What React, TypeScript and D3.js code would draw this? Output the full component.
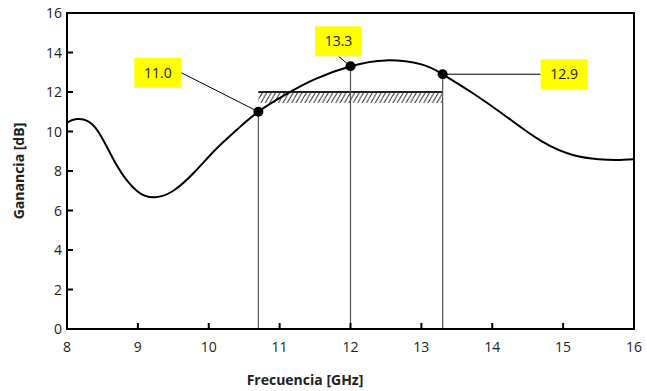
import React from "react";
import * as d3 from "d3";

const freq = [8.0, 8.14, 8.4, 8.7, 9.0, 9.24, 9.5, 9.8, 10.1, 10.4, 10.7, 11.1, 11.5, 12.0, 12.5, 13.0, 13.3, 13.7, 14.2, 14.7, 15.15, 15.5, 15.75, 16.0];
const gain = [10.45, 10.63, 10.2, 8.3, 6.95, 6.67, 7.0, 7.95, 9.1, 10.1, 11.0, 11.9, 12.65, 13.3, 13.6, 13.4, 12.9, 12.0, 10.75, 9.5, 8.8, 8.6, 8.56, 8.6];

const markerFreq = [10.7, 12.0, 13.3];
const markerGain = [11.0, 13.3, 12.9];
const markerLabels = ["11.0", "13.3", "12.9"];

const specFreq = [10.7, 13.3];
const specGain = 12;

const xTicks = [8, 9, 10, 11, 12, 13, 14, 15, 16];
const yTicks = [0, 2, 4, 6, 8, 10, 12, 14, 16];

const W = 647, H = 391;
const left = 67, right = 634, top = 13, bottom = 329;
const FONT = "'Open Sans', 'Noto Sans', sans-serif";

export default function App() {
  const x = d3.scaleLinear().domain([8, 16]).range([left, right]);
  const y = d3.scaleLinear().domain([0, 16]).range([bottom, top]);
  const line = d3
    .line<number>()
    .x((_, i) => x(freq[i]))
    .y((d) => y(d))
    .curve(d3.curveNatural);

  const pts = markerFreq.map((f, i) => ({ px: x(f), py: y(markerGain[i]) }));
  const boxW = 47, boxH = 30;
  const boxes = [
    { bx: pts[0].px - 124, by: pts[0].py - 54 },
    { bx: pts[1].px - 35.5, by: pts[1].py - 40 },
    { bx: pts[2].px + 98, by: pts[2].py - 15 },
  ];
  const leaders = [
    { x1: boxes[0].bx + boxW, y1: boxes[0].by + boxH / 2 },
    { x1: boxes[1].bx + boxW / 2, y1: boxes[1].by + boxH },
    { x1: boxes[2].bx, y1: boxes[2].by + boxH / 2 },
  ];

  const sx0 = x(specFreq[0]), sx1 = x(specFreq[1]), sy = y(specGain);

  return (
    <svg width={W} height={H} style={{ position: "absolute", left: 0, top: 0, background: "#fff" }} fontFamily={FONT}>
      <defs>
        <pattern id="hatch" width="4.4" height="11" patternUnits="userSpaceOnUse" patternTransform={`translate(${sx0},${sy})`}>
          <line x1="-2" y1="11" x2="4.4" y2="0" stroke="#222" strokeWidth="0.9" />
          <line x1="2.4" y1="11" x2="8.8" y2="0" stroke="#222" strokeWidth="0.9" />
        </pattern>
        <clipPath id="plot">
          <rect x={left} y={top} width={right - left} height={bottom - top} />
        </clipPath>
      </defs>

      <rect x={sx0} y={sy} width={sx1 - sx0} height={11} fill="url(#hatch)" />
      <line x1={sx0} x2={sx1} y1={sy} y2={sy} stroke="#222" strokeWidth={2} />

      {pts.map((p, i) => (
        <line key={"v" + i} x1={p.px} x2={p.px} y1={p.py} y2={bottom} stroke="#555" strokeWidth={1.2} />
      ))}

      <path d={line(gain) || ""} fill="none" stroke="#000" strokeWidth={2} clipPath="url(#plot)" />

      {pts.map((p, i) => (
        <line key={"l" + i} x1={leaders[i].x1} y1={leaders[i].y1} x2={p.px} y2={p.py} stroke="#000" strokeWidth={1} />
      ))}
      {pts.map((p, i) => (
        <circle key={"c" + i} cx={p.px} cy={p.py} r={5} fill="#000" />
      ))}

      {boxes.map((b, i) => (
        <g key={"b" + i}>
          <rect x={b.bx} y={b.by} width={boxW} height={boxH} fill="#ffff00" />
          <text x={b.bx + boxW / 2} y={b.by + boxH / 2 + 5} textAnchor="middle" fontSize={14} fill="#222">
            {markerLabels[i]}
          </text>
        </g>
      ))}

      <rect x={left} y={top} width={right - left} height={bottom - top} fill="none" stroke="#000" strokeWidth={2} />

      {yTicks.map((t) => (
        <g key={"yt" + t}>
          <line x1={left} x2={left + 6} y1={y(t)} y2={y(t)} stroke="#000" strokeWidth={2} />
          <text x={left - 5} y={y(t) + 5} textAnchor="end" fontSize={14} fill="#222">
            {t}
          </text>
        </g>
      ))}
      {xTicks.map((t) => (
        <g key={"xt" + t}>
          <line x1={x(t)} x2={x(t)} y1={bottom} y2={bottom - 6} stroke="#000" strokeWidth={2} />
          <text x={x(t)} y={352} textAnchor="middle" fontSize={14} fill="#222">
            {t}
          </text>
        </g>
      ))}

      <text x={305} y={385} textAnchor="middle" fontSize={14} fontWeight="bold" fill="#222">
        Frecuencia [GHz]
      </text>
      <text transform={`translate(24,${(top + bottom) / 2}) rotate(-90)`} textAnchor="middle" fontSize={14} fontWeight="bold" fill="#222">
        Ganancia [dB]
      </text>
    </svg>
  );
}
